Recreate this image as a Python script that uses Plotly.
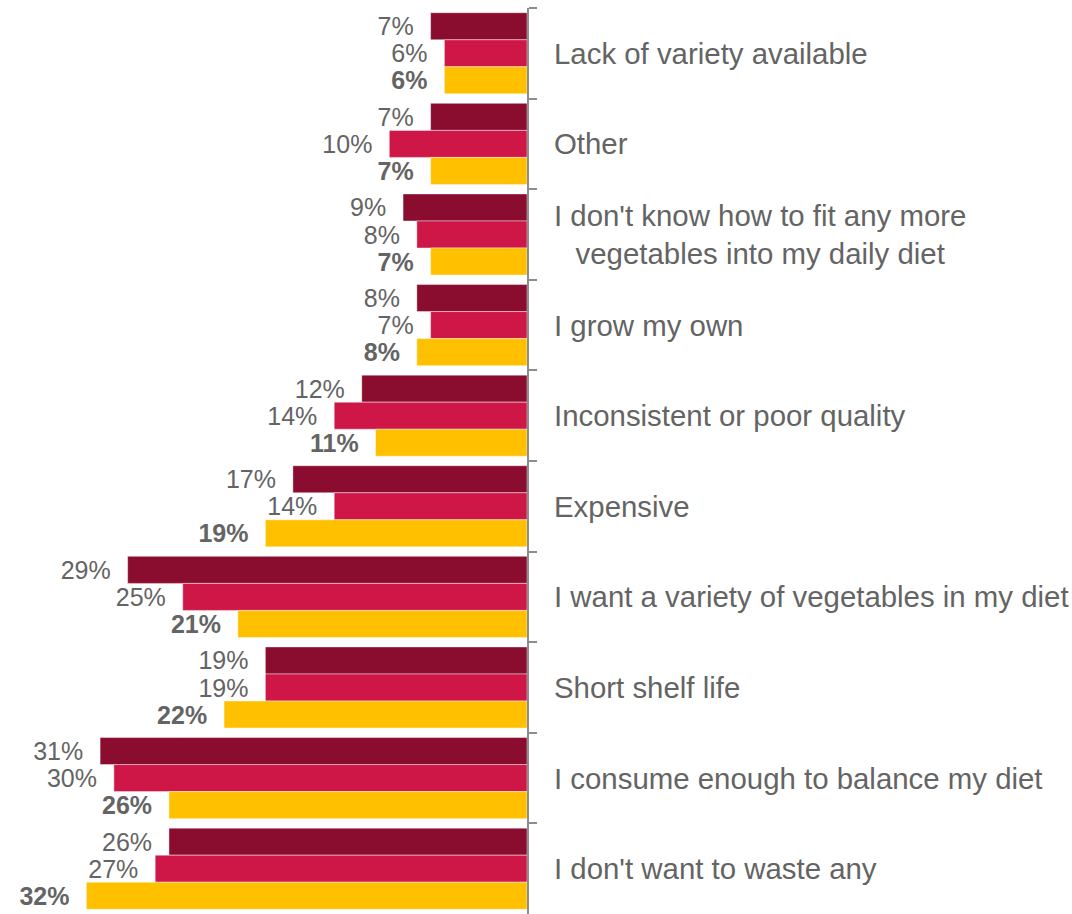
import plotly.graph_objects as go

categories = [
    "Lack of variety available",
    "Other",
    "I don't know how to fit any more<br>vegetables into my daily diet",
    "I grow my own",
    "Inconsistent or poor quality",
    "Expensive",
    "I want a variety of vegetables in my diet",
    "Short shelf life",
    "I consume enough to balance my diet",
    "I don't want to waste any",
]
series_names = ["Series 1", "Series 2", "Series 3"]
series_1 = [7, 7, 9, 8, 12, 17, 29, 19, 31, 26]
series_2 = [6, 10, 8, 7, 14, 14, 25, 19, 30, 27]
series_3 = [6, 7, 7, 8, 11, 19, 21, 22, 26, 32]
colors = ["#8A0C2F", "#CF1747", "#FFC000"]
weights = ["normal", "normal", "bold"]

keys = [f"c{i}" for i in range(len(categories))]

fig = go.Figure()
for name, vals, col, w in zip(series_names, [series_1, series_2, series_3], colors, weights):
    fig.add_trace(go.Bar(
        name=name,
        y=keys,
        x=vals,
        orientation="h",
        marker=dict(color=col, line=dict(width=0.6, color="rgba(255,255,255,0.7)")),
        text=[f"{v}%\u00a0\u00a0" for v in vals],
        textposition="outside",
        constraintext="none",
        cliponaxis=False,
        textfont=dict(family="Liberation Sans, Arial, sans-serif", size=25, color="#646464", weight=w),
        hoverinfo="skip",
    ))

for k, c in zip(keys, categories):
    fig.add_annotation(
        x=1, xref="paper", y=k, yref="y",
        xanchor="left", xshift=25, align="center",
        text=c, showarrow=False,
        font=dict(family="Liberation Sans, Arial, sans-serif", size=29.4, color="#646464"),
    )

fig.update_layout(
    width=1072, height=914,
    margin=dict(l=0, r=545, t=8, b=0),
    barmode="group", bargap=0.105, bargroupgap=0,
    showlegend=False,
    plot_bgcolor="white", paper_bgcolor="white",
    xaxis=dict(range=[38.27, 0], visible=False, showgrid=False, zeroline=False),
    yaxis=dict(
        type="category", autorange="reversed", side="right",
        showline=True, linecolor="#8C8C8C", linewidth=2,
        ticks="outside", tickson="boundaries", ticklen=8, tickcolor="#8C8C8C", tickwidth=1.5,
        showticklabels=False, showgrid=False,
    ),
)

fig.write_html("out.html")
